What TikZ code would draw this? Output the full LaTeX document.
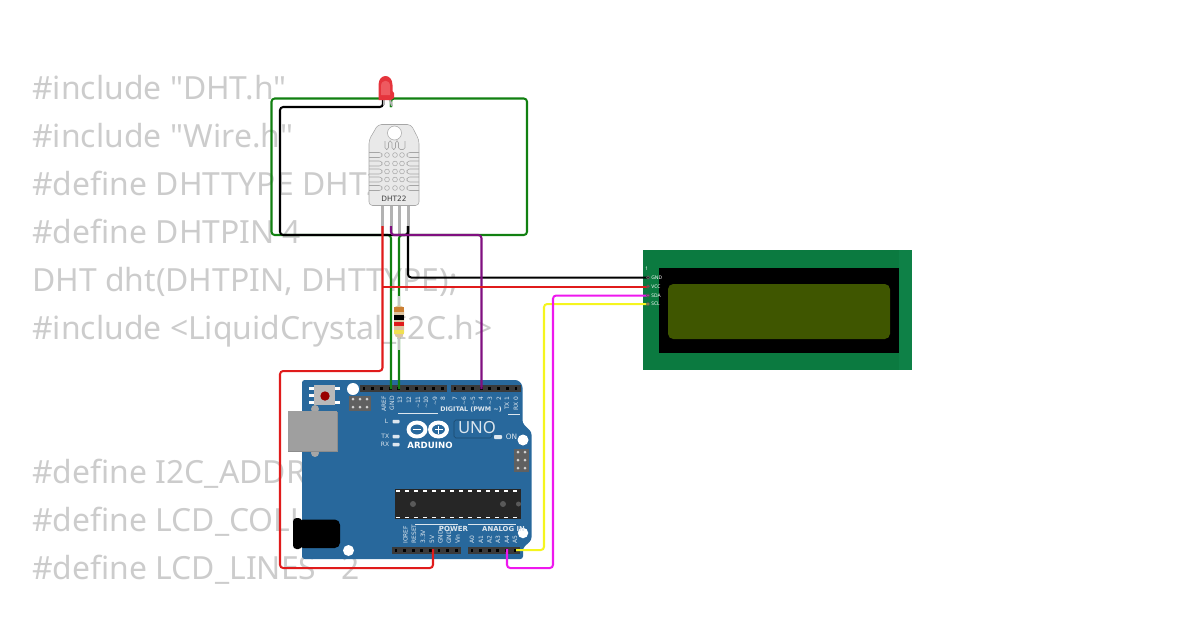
\documentclass[tikz,border=0pt]{standalone}
\usepackage{fontspec}
\usepackage{xcolor}
\usetikzlibrary{positioning}
\setmainfont{Noto Sans}
\newfontfamily\codefont{Noto Sans}
\newfontfamily\boardfont{DejaVu Sans}
\definecolor{codegray}{HTML}{CCCCCC}
\definecolor{unoblue}{HTML}{28689C}
\definecolor{unotext}{HTML}{DCE6EE}
\definecolor{headergray}{HTML}{3A3A3A}
\definecolor{lcdgreen}{HTML}{0B7A40}
\definecolor{lcdedge}{HTML}{0E8147}
\definecolor{lcdscreen}{HTML}{3F5600}
\definecolor{wiregreen}{HTML}{118011}
\definecolor{wirered}{HTML}{E01B1B}
\definecolor{wirepurple}{HTML}{800F80}
\definecolor{wireyellow}{HTML}{F5F51E}
\definecolor{wiremagenta}{HTML}{EE18EE}
\definecolor{sensorgray}{HTML}{E9E9E9}
\definecolor{ledred}{HTML}{E5343C}
\definecolor{ledglow}{HTML}{EE5A60}
\definecolor{restan}{HTML}{DCC4A0}
\tikzset{
  code/.style={anchor=base west, inner sep=0pt, text=codegray, font=\codefont\fontsize{18.15}{18.15}\selectfont},
  wire/.style={line width=1.15pt, rounded corners=1.8pt},
  pinlabel/.style={rotate=90, anchor=west, inner sep=0pt, text=unotext, font=\boardfont\fontsize{3.4}{3.4}\selectfont},
  boardlabel/.style={inner sep=0pt, text=unotext, font=\boardfont\bfseries\fontsize{3.6}{3.6}\selectfont},
  smalllabel/.style={inner sep=0pt, text=unotext, font=\boardfont\fontsize{3.4}{3.4}\selectfont},
  lcdlabel/.style={anchor=west, inner sep=0pt, text=white, font=\fontsize{2.8}{2.8}\selectfont},
  hole/.style={circle, fill=white, inner sep=0pt},
  smalled/.style={fill=unotext, rounded corners=0.5pt, inner sep=0pt},
}
\begin{document}
\begin{tikzpicture}[x=0.02cm, y=-0.02cm]
  \useasboundingbox (0,0) rectangle (1200,630);

  % Code behind the circuit
  \node[code] (line1) at (32,99) {\#include "DHT.h"};
  \node[code] (line2) at (32,147) {\#include "Wire.h"};
  \node[code] (line3) at (32,195) {\#define DHTTYPE DHT2};
  \node[code] (line4) at (32,243) {\#define DHTPIN 4};
  \node[code] (line5) at (32,291) {DHT dht(DHTPIN, DHTTYPE);};
  \node[code] (line6) at (32,339) {\#include <LiquidCrystal\_I2C.h>};
  \node[code] (line7) at (32,483) {\#define I2C\_ADDR};
  \node[code] (line8) at (32,531) {\#define LCD\_COLU};
  \node[code] (line9) at (32,579) {\#define LCD\_LINES\ \ \ 2};

  % LCD module
  \fill[lcdgreen] (643,250) rectangle (912,370);
  \fill[lcdedge] (899,250) rectangle (912,370);
  \fill[black] (659,268) rectangle (899,353);
  \fill[lcdscreen, rounded corners=3pt] (668,284) rectangle (890,339);
  \node[lcdlabel] (lcd1) at (645,269) {1};
  \node[lcdlabel] (lcdG) at (651,277.5) {GND};
  \node[lcdlabel] (lcdV) at (651,286.5) {VCC};
  \node[lcdlabel] (lcdD) at (651,295.5) {SDA};
  \node[lcdlabel] (lcdC) at (651,304) {SCL};

  % Arduino board
  \fill[unoblue, rounded corners=1.5pt] (302,380) -- (518,380) -- (522.5,385) -- (522.5,423)
    -- (531.5,432) -- (531.5,540) -- (523,548) -- (523,559) -- (302,559) -- cycle;
  % USB socket and power jack
  \fill[gray!70] (315,409) circle (4);
  \fill[gray!70] (315,453) circle (4);
  \fill[black!45] (288,412) rectangle (337.5,452);
  \fill[gray!75] (288,411) rectangle (337,451);
  \fill[black, rounded corners=2pt] (293,518) rectangle (302,549);
  \fill[black, rounded corners=3pt] (298,519.5) rectangle (340,548);
  % Reset button
  \fill[gray!55] (314,385) rectangle (335,405);
  \fill[white] (309,387) rectangle (314,389.5);
  \fill[white] (309,394) rectangle (314,396.5);
  \fill[white] (309,401) rectangle (314,403.5);
  \fill[white] (335,387) rectangle (340,389.5);
  \fill[white] (335,401) rectangle (340,403.5);
  \fill[red!60!black] (325,396) circle (4.7);
  % Mounting holes
  \node[hole, minimum size=0.24cm] (hole1) at (353,389) {};
  \node[hole, minimum size=0.22cm] (hole2) at (523,440) {};
  \node[hole, minimum size=0.21cm] (hole3) at (523,533) {};
  \node[hole, minimum size=0.22cm] (hole4) at (348.5,550.5) {};
  % ICSP headers
  \fill[gray!75!black] (349,396) rectangle (371,411);
  \fill[gray!75!black] (514,449) rectangle (529,472);
  \foreach \x in {353,360,367} \foreach \y in {399,407}
    \fill[gray!35] (\x,\y) circle (1.5);
  \foreach \x in {518,525} \foreach \y in {452,460,468}
    \fill[gray!35] (\x,\y) circle (1.5);
  % Pin headers
  \fill[headergray] (360,385) rectangle (447,392);
  \fill[headergray] (451,385) rectangle (521,392);
  \fill[headergray] (391.5,547) rectangle (461,554);
  \fill[headergray] (468,547) rectangle (520,554);
  \foreach \x in {364,372.7,...,444} \fill[black] (\x-1.4,387.3) rectangle (\x+1.4,390);
  \foreach \x in {455,463.7,...,518} \fill[black] (\x-1.4,387.3) rectangle (\x+1.4,390);
  \foreach \x in {396,404.6,...,458} \fill[black] (\x-1.4,549.3) rectangle (\x+1.4,552);
  \foreach \x in {472,480.6,...,518} \fill[black] (\x-1.4,549.3) rectangle (\x+1.4,552);
  % Pin labels
  \foreach \x/\t [count=\i] in {384/AREF,392/GND,400/13,409/12,418/\textasciitilde 11,426/\textasciitilde 10,435/\textasciitilde 9,443/8,
    455/7,464/\textasciitilde 6,473/\textasciitilde 5,481/4,490/\textasciitilde 3,499/2,507/TX 1,516/RX 0}
    \node[pinlabel, anchor=east] (dig\i) at (\x,396) {\t};
  \foreach \x/\t [count=\i] in {405.5/IOREF,414/RESET,423/3.3V,432/5V,440.5/GND,449/GND,457.5/Vin,
    472/A0,481/A1,489.5/A2,498/A3,507/A4,515/A5}
    \node[pinlabel] (ana\i) at (\x,544) {\t};
  \draw[unotext, line width=0.2pt] (398,413.5) -- (438,413.5);
  \draw[unotext, line width=0.2pt] (508,414.5) -- (520,414.5);
  \draw[unotext, line width=0.2pt] (415,524) -- (458,524);
  \draw[unotext, line width=0.2pt] (468,524) -- (516,524);
  \node[boardlabel] (digital) at (471,409.5) {DIGITAL (PWM \textasciitilde)};
  \node[boardlabel, font=\boardfont\bfseries\fontsize{4}{4}\selectfont] (power) at (453.5,528.5) {POWER};
  \node[boardlabel, font=\boardfont\bfseries\fontsize{3.9}{3.9}\selectfont] (analog) at (503.5,528.5) {ANALOG IN};
  % Status leds
  \node[smalled, minimum width=0.14cm, minimum height=0.07cm] (ledL) at (396,421.5) {};
  \node[smalled, minimum width=0.14cm, minimum height=0.07cm] (ledTX) at (396,436.5) {};
  \node[smalled, minimum width=0.14cm, minimum height=0.07cm] (ledRX) at (396,444.5) {};
  \node[smalled, minimum width=0.16cm, minimum height=0.08cm] (ledON) at (498,437) {};
  \node[smalllabel, left=2pt of ledL.west] (labL) {L};
  \node[smalllabel, left=1.5pt of ledTX.west] (labTX) {TX};
  \node[smalllabel, left=1.5pt of ledRX.west] (labRX) {RX};
  \node[smalllabel, font=\boardfont\fontsize{4.2}{4.2}\selectfont, anchor=west] (labON) at (505.5,436.5) {ON};
  % Arduino logo
  \draw[white, line width=2.2pt] (417,429.5) ellipse (8.5 and 7);
  \draw[white, line width=2.2pt] (438.5,429.5) ellipse (8.5 and 7);
  \fill[white] (413,428.8) rectangle (421,430.2);
  \fill[white] (434.5,428.8) rectangle (442.5,430.2);
  \fill[white] (437.8,425.5) rectangle (439.2,433.5);
  \node[boardlabel, font=\boardfont\bfseries\fontsize{4.9}{4.9}\selectfont, text=white] (arduino) at (430,445) {ARDUINO};
  \draw[black!30!unoblue, line width=0.3pt, rounded corners=1pt] (454,420) rectangle (492,438);
  \node[inner sep=0pt, text=unotext, font=\fontsize{9.5}{9.5}\selectfont] (uno) at (477,428) {UNO};
  % Microcontroller
  \fill[black!85] (395,489) rectangle (520.5,519);
  \foreach \x in {398,407,...,518} {
    \fill[white] (\x-2,490.3) rectangle (\x+2,491.5);
    \fill[white] (\x-2,516.5) rectangle (\x+2,517.7);
  }
  \fill[black!65] (413,504) circle (3);
  \fill[black!65] (503,504) circle (3);
  \fill[black!65] (518.5,504) circle (2.5);

  % DHT22 sensor
  \fill[gray!60] (381,206) rectangle (384,235);
  \fill[gray!60] (389.5,206) rectangle (392.5,235);
  \fill[gray!60] (397.5,206) rectangle (400.5,235);
  \fill[gray!60] (406.5,206) rectangle (409.5,235);
  \draw[gray!70, fill=sensorgray, line width=0.3pt, rounded corners=2pt] (369,205.5) -- (369,140) -- (378,124.5)
    -- (411,124.5) -- (419,140) -- (419,205.5) -- cycle;
  \draw[gray!70, fill=white, line width=0.3pt] (394.5,133) circle (7);
  \draw[gray!70, line width=0.3pt, rounded corners=1pt] (385,141) -- (385,149.5) -- (388.5,149.5) -- (388.5,141) -- (392,141) -- (392,149.5)
    -- (395.5,149.5) -- (395.5,141) -- (398.5,141) -- (398.5,149.5) -- (405,149.5) -- (405,141);
  \foreach \y in {155,163.5,171.5,179.5,188} {
    \draw[gray!70, line width=0.3pt, rounded corners=1.5pt] (369,\y-2.5) -- (382,\y-2.5) -- (382,\y+2.5) -- (369,\y+2.5);
    \draw[gray!70, line width=0.3pt, rounded corners=1.5pt] (419,\y-2.5) -- (407,\y-2.5) -- (407,\y+2.5) -- (419,\y+2.5);
    \foreach \x in {387,395,402}
      \draw[gray!70, line width=0.3pt] (\x,\y) circle (2.4);
  }
  \node[inner sep=0pt, text=black!75, font=\boardfont\fontsize{4.2}{4.2}\selectfont] (dhtname) at (394,198.5) {DHT22};

  % Pins the wires run between
  \coordinate (ledK) at (383,100);
  \coordinate (ledA) at (391,107);
  \coordinate (dhtVcc) at (382.5,226);
  \coordinate (dhtData) at (391,226);
  \coordinate (dhtGnd) at (408,226);
  \coordinate (unoGnd) at (391,389);
  \coordinate (uno13) at (399,389);
  \coordinate (uno4) at (481.5,389);
  \coordinate (uno5V) at (433,549);
  \coordinate (unoA4) at (507,549);
  \coordinate (unoA5) at (516,550);
  \coordinate (lcdGnd) at (649,277.5);
  \coordinate (lcdVcc) at (649,286.5);
  \coordinate (lcdSda) at (649,295.5);
  \coordinate (lcdScl) at (649,304);
  % Corners of the long runs
  \coordinate (greenNE) at (527,98.5);
  \coordinate (greenSE) at (527,235);
  \coordinate (greenNW) at (271.5,98.5);
  \coordinate (greenSW) at (271.5,235);
  \coordinate (blackNW) at (280,107);
  \coordinate (blackSW) at (280,235);
  \coordinate (redNW) at (280,371);
  \coordinate (redSW) at (280,568);
  \coordinate (purpleNE) at (481.5,235);
  \coordinate (yellowS) at (544,550);
  \coordinate (magentaW) at (507,568);
  \coordinate (magentaE) at (553,568);

  % Draw the wires
  \draw[wire, wiregreen] (ledA) |- (greenNE) -- (greenSE) -| (uno13);
  \draw[wire, wiregreen] (ledA) |- (greenNW) -- (greenSW) -| (unoGnd);
  \draw[wire, black] (ledK) |- (blackNW) -- (blackSW) -| (dhtGnd);
  \draw[wire, black] (dhtGnd) |- (lcdGnd);
  \draw[wire, wirepurple] (dhtData) |- (purpleNE) -- (uno4);
  \draw[wire, wirered] (dhtVcc) |- (redNW) -- (redSW) -| (uno5V);
  \draw[wire, wirered] (lcdVcc) -- (lcdVcc -| dhtVcc);
  \draw[wire, wireyellow] (unoA5) -- (yellowS) |- (lcdScl);
  \draw[wire, wiremagenta] (unoA4) -- (magentaW) -- (magentaE) |- (lcdSda);

  % Pads on the LCD
  \foreach \y in {277.5,286.5,295.5,304}
    \draw[gray!70!black, line width=0.5pt] (648,\y) circle (1.6);

  % Resistor
  \draw[gray!45, line width=1.2pt] (399,296) -- (399,350);
  \fill[restan, rounded corners=3pt] (394,305) rectangle (404,338);
  \fill[brown!80!orange] (394,307) rectangle (404,312);
  \fill[black] (394,315) rectangle (404,319.5);
  \fill[wirered] (394,321.5) rectangle (404,325.5);
  \fill[yellow!55!restan] (394,330) rectangle (404,334);

  % Red LED
  \fill[gray!60] (383,100) rectangle (385,105);
  \fill[gray!60] (389,100) -- (391,100) -- (393,106) -- (391,106) -- cycle;
  \fill[ledred] (378.5,100) -- (378.5,85) .. controls (378.5,73) and (392.5,73) .. (392.5,85) -- (392.5,91)
    -- (394,93) -- (394,98) -- (391,100) -- cycle;
  \fill[ledglow] (381,95) -- (381,86) .. controls (381,79) and (390,79) .. (390,86) -- (390,95) -- cycle;
\end{tikzpicture}
\end{document}
